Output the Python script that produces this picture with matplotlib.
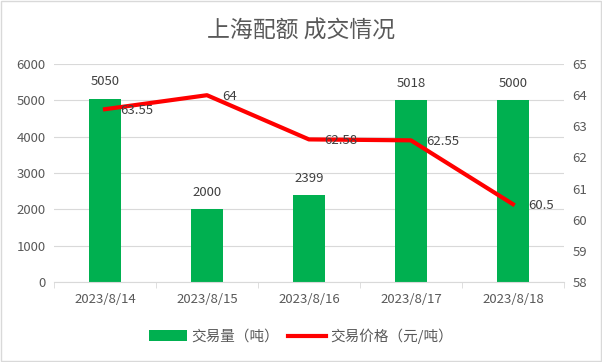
import matplotlib
matplotlib.use("Agg")
import matplotlib.pyplot as plt
import numpy as np
from matplotlib.patches import Rectangle

plt.rcParams['font.family'] = ['Noto Sans CJK SC', 'DejaVu Sans']

dates = ["2023/8/14", "2023/8/15", "2023/8/16", "2023/8/17", "2023/8/18"]
volume = [5050, 2000, 2399, 5018, 5000]
price = [63.55, 64, 62.58, 62.55, 60.5]
price_labels = ["63.55", "64", "62.58", "62.55", "60.5"]

txt = "#595959"
grid = "#d9d9d9"

fig = plt.figure(figsize=(6.02, 3.62), dpi=100)
fig.patches.append(Rectangle((0.002, 0.003), 0.996, 0.994, transform=fig.transFigure,
                             fill=False, edgecolor="#d9d9d9", linewidth=1))
ax = fig.add_axes([0.0897, 0.221, 0.847, 0.602])
ax2 = ax.twinx()

x = np.arange(len(dates))
ax.bar(x, volume, width=0.31, color="#00B050", zorder=2, label="交易量（吨）")
for xi, v in zip(x, volume):
    ax.text(xi, v + 280, str(v), ha="center", va="bottom", fontsize=9.5, color="#404040")

ax.set_xlim(-0.5, 4.5)
ax.set_ylim(0, 6000)
ax.set_yticks(range(0, 6001, 1000))
ax.yaxis.grid(True, color=grid, linewidth=0.8, zorder=0)
ax.set_axisbelow(True)
ax.set_xticks(x)
ax.set_xticklabels(dates)
ax.set_xticks(np.arange(-0.5, 5, 1), minor=True)
ax.tick_params(axis="x", which="major", length=0, pad=8, labelsize=9.5, labelcolor=txt)
ax.tick_params(axis="x", which="minor", length=4, color=grid)
ax.tick_params(axis="y", length=0, pad=6, labelsize=9.5, labelcolor=txt)
for s in ["top", "right", "left"]:
    ax.spines[s].set_visible(False)
    ax2.spines[s].set_visible(False)
ax.spines["bottom"].set_color(grid)
ax2.spines["bottom"].set_visible(False)

ax2.plot(x, price, color="#FF0000", linewidth=3, zorder=3, label="交易价格（元/吨）")
ax2.set_ylim(58, 65)
ax2.set_yticks(range(58, 66))
ax2.tick_params(axis="y", length=0, pad=6, labelsize=9.5, labelcolor=txt)
for xi, p, lab in zip(x, price, price_labels):
    ax2.text(xi + 0.15, p - 0.05, lab, ha="left", va="center", fontsize=9.5, color="#404040", zorder=4)

fig.text(0.5, 0.915, "上海配额 成交情况", ha="center", va="center", fontsize=16.5, color=txt)

h1, l1 = ax.get_legend_handles_labels()
h2, l2 = ax2.get_legend_handles_labels()
fig.legend(h1 + h2, l1 + l2, loc="center", bbox_to_anchor=(0.5, 0.072), ncol=2,
           frameon=False, fontsize=10.5, labelcolor=txt, handlelength=2.6,
           handletextpad=0.3, columnspacing=0.6)

fig.savefig("out.png", dpi=100)
